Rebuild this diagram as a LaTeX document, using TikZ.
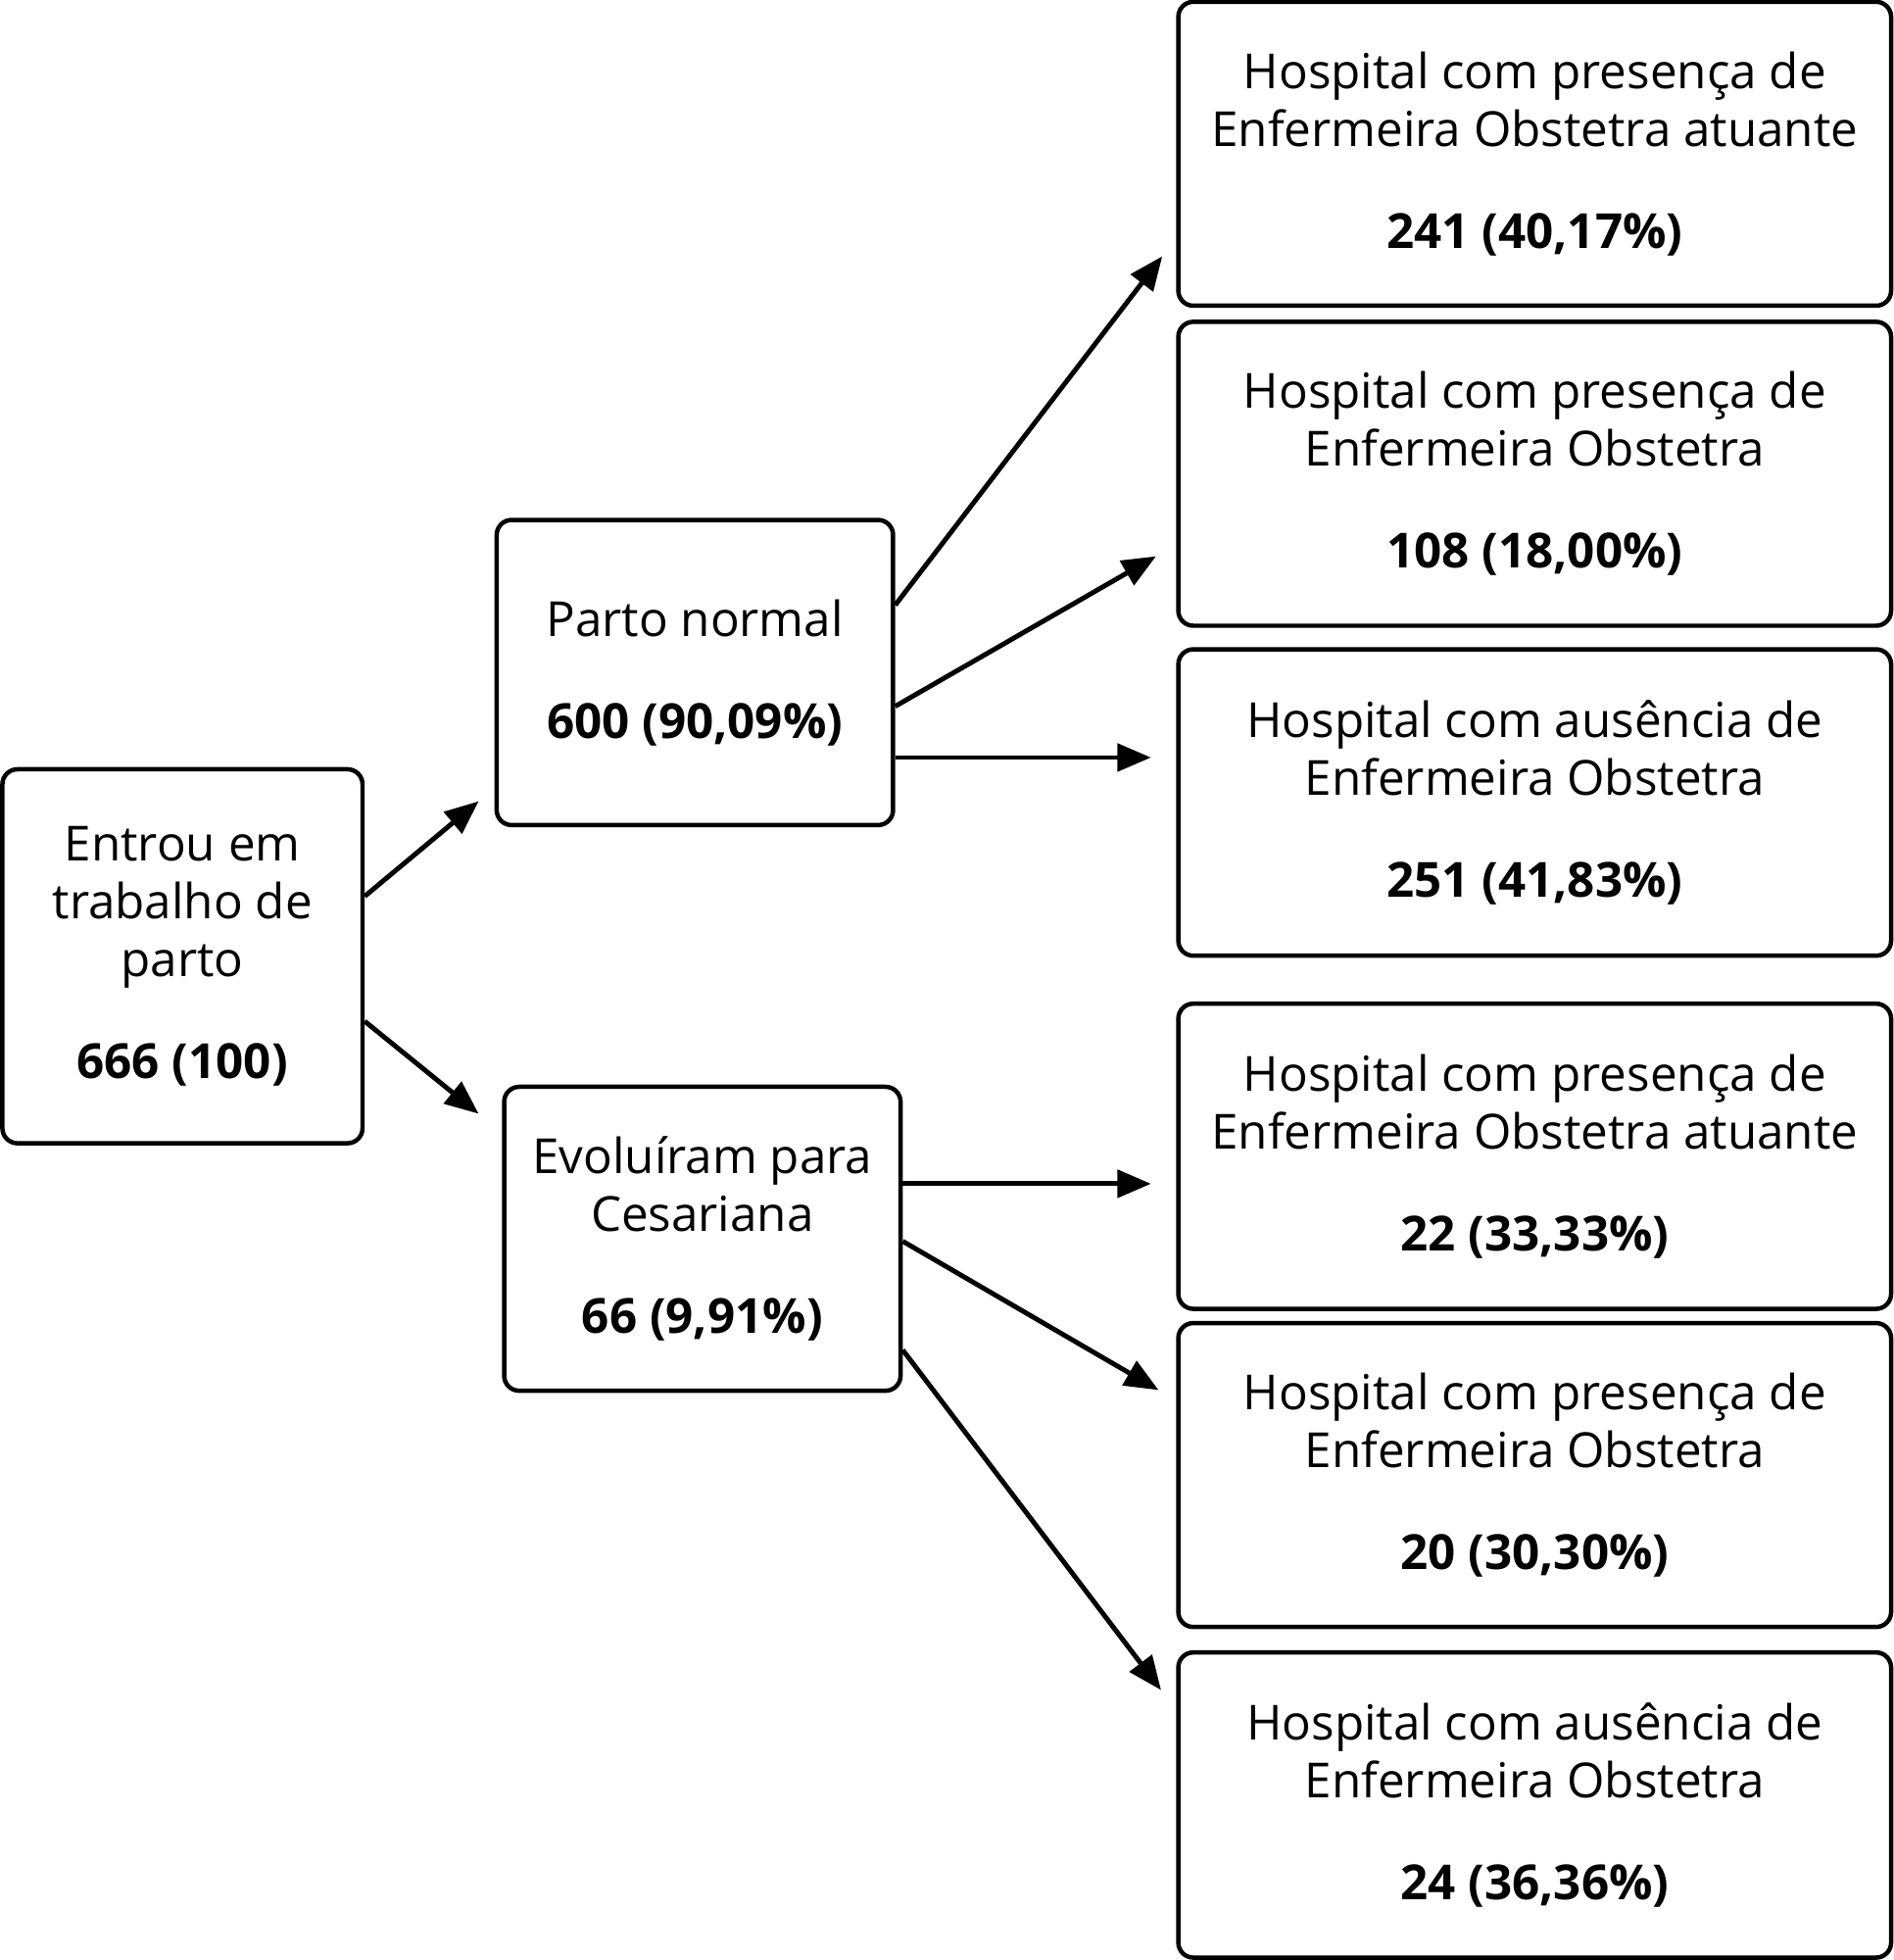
\documentclass[tikz,border=0pt]{standalone}
\usepackage{fontspec}
\setmainfont{Open Sans}
\usetikzlibrary{arrows.meta}
\tikzset{
  box/.style={draw, line width=1pt, rounded corners=0.12cm, align=center, font=\fontsize{11}{13.2}\selectfont, inner sep=0pt},
  arr/.style={line width=1.1pt, -{Triangle[length=0.27cm, width=0.22cm]}}
}
\begin{document}
\begin{tikzpicture}[x=0.01cm, y=-0.01cm]
  \useasboundingbox (0,0) rectangle (1515,1568);
  % left column
  \node[box, minimum width=2.88cm, minimum height=2.99cm] (start) at (146,765) {Entrou em\\trabalho de\\parto\\[10pt]\textbf{666 (100)}};
  % middle column
  \node[box, minimum width=3.17cm, minimum height=2.44cm] (normal) at (556,538) {Parto normal\\[10pt]\textbf{600 (90,09\%)}};
  \node[box, minimum width=3.17cm, minimum height=2.43cm] (ces) at (562,991) {Evoluíram para\\Cesariana\\[10pt]\textbf{66 (9,91\%)}};
  % right column
  \node[box, minimum width=5.7cm, minimum height=2.43cm] (n1) at (1228,123) {Hospital com presença de\\Enfermeira Obstetra atuante\\[10pt]\textbf{241 (40,17\%)}};
  \node[box, minimum width=5.7cm, minimum height=2.43cm] (n2) at (1228,379) {Hospital com presença de\\Enfermeira Obstetra\\[10pt]\textbf{108 (18,00\%)}};
  \node[box, minimum width=5.7cm, minimum height=2.45cm] (n3) at (1228,642) {Hospital com ausência de\\Enfermeira Obstetra\\[10pt]\textbf{251 (41,83\%)}};
  \node[box, minimum width=5.7cm, minimum height=2.44cm] (c1) at (1228,925) {Hospital com presença de\\Enfermeira Obstetra atuante\\[10pt]\textbf{22 (33,33\%)}};
  \node[box, minimum width=5.7cm, minimum height=2.43cm] (c2) at (1228,1180) {Hospital com presença de\\Enfermeira Obstetra\\[10pt]\textbf{20 (30,30\%)}};
  \node[box, minimum width=5.7cm, minimum height=2.44cm] (c3) at (1228,1444) {Hospital com ausência de\\Enfermeira Obstetra\\[10pt]\textbf{24 (36,36\%)}};
  % free arrow ends
  \coordinate (tnormal) at (383,641);
  \coordinate (tces) at (383,891);
  \coordinate (tn1) at (930,205);
  \coordinate (tn2) at (925,445);
  \coordinate (tn3) at (921,606);
  \coordinate (tc1) at (921,947);
  \coordinate (tc2) at (927,1112);
  \coordinate (tc3) at (929,1352);
  % arrows
  \draw[arr] (start.east |- 0,717) -- (tnormal);
  \draw[arr] (start.east |- 0,817) -- (tces);
  \draw[arr] (normal.east |- 0,484) -- (tn1);
  \draw[arr] (normal.east |- 0,565) -- (tn2);
  \draw[arr] (normal.east |- 0,606) -- (tn3);
  \draw[arr] (ces.east |- 0,947) -- (tc1);
  \draw[arr] (ces.east |- 0,993) -- (tc2);
  \draw[arr] (ces.east |- 0,1080) -- (tc3);
\end{tikzpicture}
\end{document}
